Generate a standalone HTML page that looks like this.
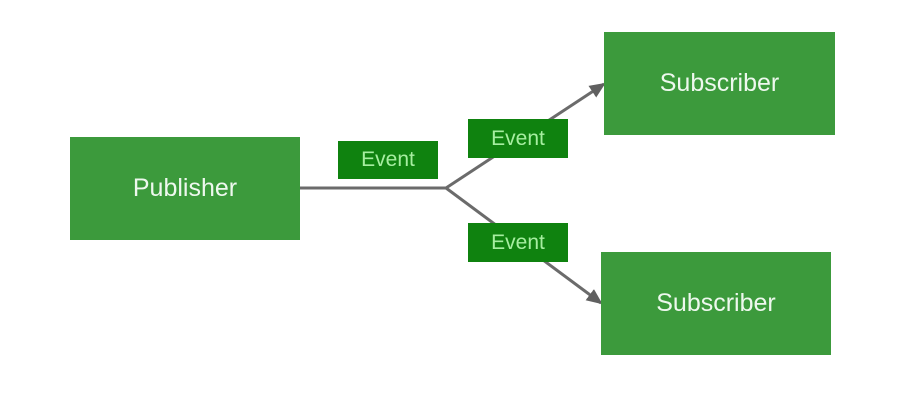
<!DOCTYPE html>
<html><head><style>
body{margin:0;width:918px;height:412px;background:#fff;overflow:hidden;font-family:"Liberation Sans",sans-serif}
.b{position:absolute;background:#3c9a3c;color:#eef8ee;font-size:25px;display:flex;align-items:center;justify-content:center}
.e{position:absolute;background:#0f820f;color:#a6eea0;font-size:21px;display:flex;align-items:center;justify-content:center}
</style></head><body>
<svg width="918" height="412" style="position:absolute;left:0;top:0">
<defs><marker id="a" markerWidth="16" markerHeight="14" refX="14" refY="7" orient="auto" markerUnits="userSpaceOnUse"><path d="M0,0 L16,7 L0,14 z" fill="#606060"/></marker></defs>
<g stroke="#6b6b6b" stroke-width="3" fill="none">
<path d="M300,188 L446,188"/>
<path d="M446,188 L604,84" marker-end="url(#a)"/>
<path d="M446,188 L601,303" marker-end="url(#a)"/>
</g></svg>
<div class="b" style="left:70px;top:137px;width:230px;height:103px">Publisher</div>
<div class="b" style="left:604px;top:32px;width:231px;height:103px">Subscriber</div>
<div class="b" style="left:601px;top:252px;width:230px;height:103px">Subscriber</div>
<div class="e" style="left:338px;top:141px;width:100px;height:38px">Event</div>
<div class="e" style="left:468px;top:119px;width:100px;height:39px">Event</div>
<div class="e" style="left:468px;top:223px;width:100px;height:39px">Event</div>
</body></html>
